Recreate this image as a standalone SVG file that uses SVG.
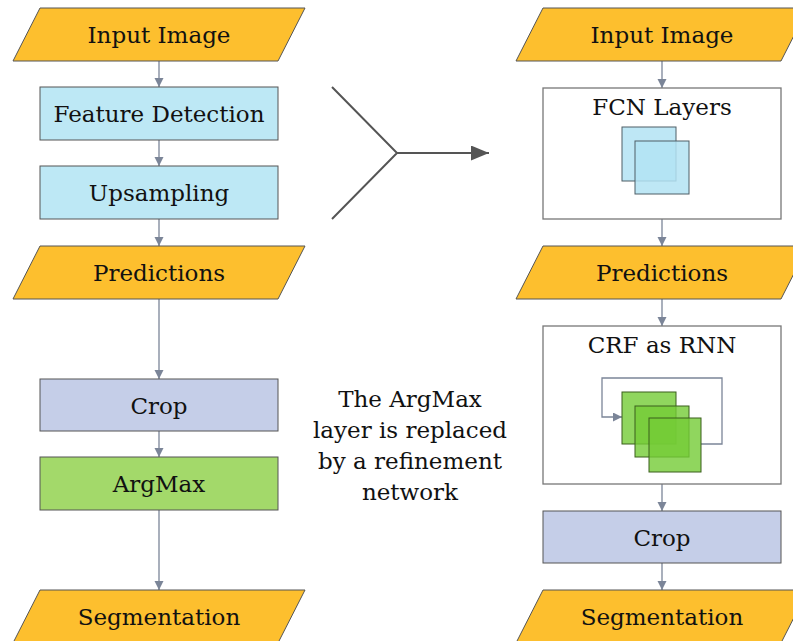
<svg xmlns="http://www.w3.org/2000/svg" width="793" height="641" viewBox="0 0 793 641" font-family="DejaVu Serif, serif">
<defs>
<style>
.t{font-size:23px;fill:#111;text-anchor:middle}
.para{fill:#fdbf2e;stroke:#555;stroke-width:1}
.blue{fill:#bde8f5;stroke:#555;stroke-width:1}
.lav{fill:#c5cee8;stroke:#555;stroke-width:1}
.grn{fill:#a3d96a;stroke:#555;stroke-width:1}
.white{fill:#fff;stroke:#777;stroke-width:1.3}
.c{stroke:#7b8598;stroke-width:1.3;fill:none}
.sq{fill:#b3e3f3;fill-opacity:0.85;stroke:#4f5e66;stroke-width:1}
.gq{fill:#74cc36;fill-opacity:0.8;stroke:#3a5f1c;stroke-width:1}
</style>
<marker id="ah" markerUnits="userSpaceOnUse" markerWidth="10" markerHeight="10" refX="9" refY="4.5" orient="auto">
<path d="M0,0 L9,4.5 L0,9 z" fill="#7b8598"/>
</marker>
<marker id="bh" markerUnits="userSpaceOnUse" markerWidth="20" markerHeight="16" refX="18" refY="7.5" orient="auto">
<path d="M0,0 L18,7.5 L0,15 z" fill="#555"/>
</marker>
</defs>

<g id="connectors">
<line class="c" x1="159" y1="61" x2="159" y2="87" marker-end="url(#ah)"/>
<line class="c" x1="159" y1="140" x2="159" y2="166" marker-end="url(#ah)"/>
<line class="c" x1="159" y1="219" x2="159" y2="246" marker-end="url(#ah)"/>
<line class="c" x1="159" y1="299" x2="159" y2="379" marker-end="url(#ah)"/>
<line class="c" x1="159" y1="431" x2="159" y2="457" marker-end="url(#ah)"/>
<line class="c" x1="159" y1="510" x2="159" y2="590" marker-end="url(#ah)"/>
<line class="c" x1="662" y1="61" x2="662" y2="88" marker-end="url(#ah)"/>
<line class="c" x1="662" y1="219" x2="662" y2="246" marker-end="url(#ah)"/>
<line class="c" x1="662" y1="299" x2="662" y2="326" marker-end="url(#ah)"/>
<line class="c" x1="662" y1="484" x2="662" y2="511" marker-end="url(#ah)"/>
<line class="c" x1="662" y1="563" x2="662" y2="590" marker-end="url(#ah)"/>
<g id="big-arrow">
<path d="M332,87 L397,153 L332,219" fill="none" stroke="#555" stroke-width="2"/>
<line x1="397" y1="153" x2="489" y2="153" stroke="#555" stroke-width="2" marker-end="url(#bh)"/>
</g>
</g>

<g id="l-input"><polygon class="para" points="40,8 305,8 278,61 13,61"/><text class="t" x="159" y="43">Input Image</text></g>
<g id="l-feature"><rect class="blue" x="40" y="87" width="238" height="53"/><text class="t" x="159" y="122">Feature Detection</text></g>
<g id="l-upsampling"><rect class="blue" x="40" y="166" width="238" height="53"/><text class="t" x="159" y="201">Upsampling</text></g>
<g id="l-predictions"><polygon class="para" points="40,246 305,246 278,299 13,299"/><text class="t" x="159" y="281">Predictions</text></g>
<g id="l-crop"><rect class="lav" x="40" y="379" width="238" height="52"/><text class="t" x="159" y="414">Crop</text></g>
<g id="l-argmax"><rect class="grn" x="40" y="457" width="238" height="53"/><text class="t" x="159" y="492">ArgMax</text></g>
<g id="l-segmentation"><polygon class="para" points="40,590 305,590 278,643 13,643"/><text class="t" x="159" y="625">Segmentation</text></g>

<g id="note">
<text class="t" x="410" y="407">The ArgMax</text>
<text class="t" x="410" y="438">layer is replaced</text>
<text class="t" x="410" y="469">by a refinement</text>
<text class="t" x="410" y="500">network</text>
</g>

<g id="r-input"><polygon class="para" points="543,8 808,8 781,61 516,61"/><text class="t" x="662" y="43">Input Image</text></g>
<g id="r-fcn">
<rect class="white" x="543" y="88" width="238" height="131"/>
<text class="t" x="662" y="115">FCN Layers</text>
<rect class="sq" x="622" y="127" width="54" height="54"/>
<rect class="sq" x="635" y="141" width="54" height="53"/>
</g>
<g id="r-predictions"><polygon class="para" points="543,246 808,246 781,299 516,299"/><text class="t" x="662" y="281">Predictions</text></g>
<g id="r-crf">
<rect class="white" x="543" y="326" width="238" height="158"/>
<text class="t" x="662" y="353">CRF as RNN</text>
<path class="c" d="M701,444 L722,444 L722,378 L602,378 L602,417 L622,417" marker-end="url(#ah)"/>
<rect class="gq" x="622" y="392" width="54" height="52"/>
<rect class="gq" x="635" y="406" width="54" height="51"/>
<rect class="gq" x="649" y="418" width="52" height="54"/>
</g>
<g id="r-crop"><rect class="lav" x="543" y="511" width="238" height="52"/><text class="t" x="662" y="546">Crop</text></g>
<g id="r-segmentation"><polygon class="para" points="543,590 808,590 781,643 516,643"/><text class="t" x="662" y="625">Segmentation</text></g>
</svg>
